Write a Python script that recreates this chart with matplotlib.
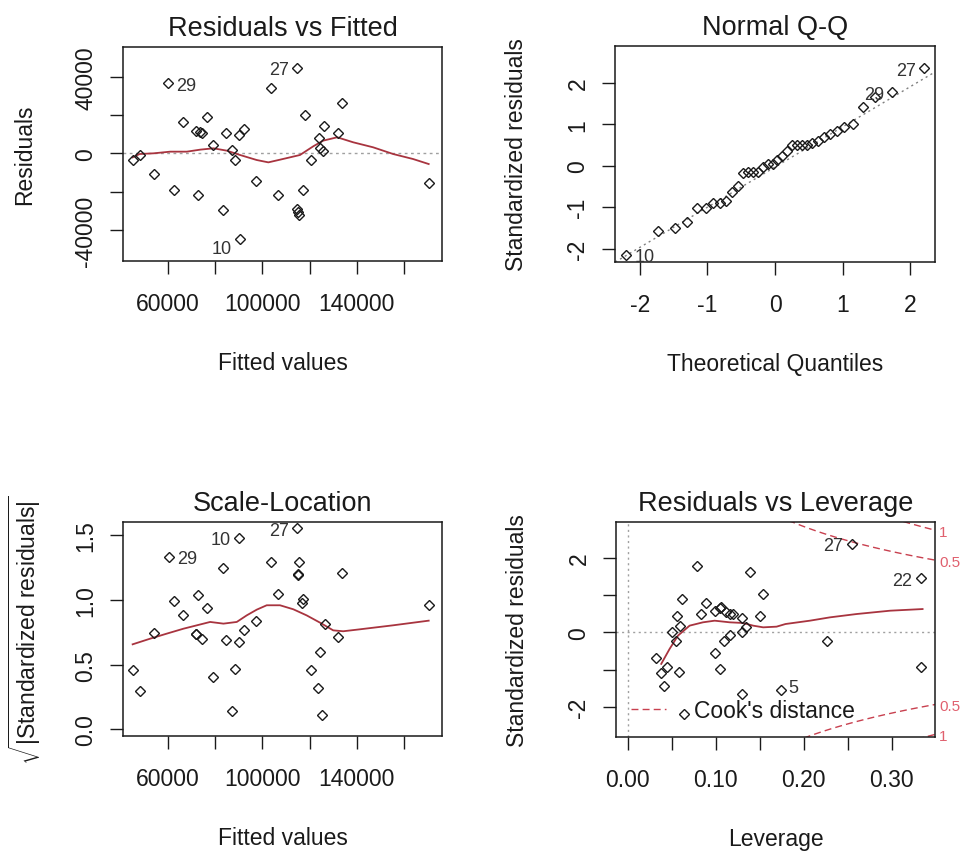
import statistics

import matplotlib
matplotlib.use("Agg")
import matplotlib.pyplot as plt
from matplotlib.lines import Line2D
import numpy as np

plt.rcParams['font.family'] = ['Liberation Sans', 'DejaVu Sans']
plt.rcParams['mathtext.fontset'] = 'custom'
plt.rcParams['mathtext.rm'] = 'Liberation Sans'
plt.rcParams['mathtext.it'] = 'Liberation Sans:italic'

# ------------ Residuals vs Fitted ---------------
fitted = [45070, 48028, 54225, 60000, 62394, 66197, 71831, 74648, 72676, 76479,
          79014, 83521, 84648, 87324, 88451, 90141, 92394, 90423, 97465, 103521,
          106761, 114789, 114507, 115493, 117042, 117887, 120704, 123944, 124366, 125493,
          126197, 131972, 133662, 170423, 73500, 115000]
resid = [-3494, -700, -10830, 36690, -19220, 16250, 11880, 10660, -21840, 19040,
         4190, -29350, 10660, 1750, -3320, 9610, 12750, -44900, -14500, 33890,
         -21840, 44720, -29180, -32150, -19220, 19920, -3320, 8040, 2800, 1220,
         14330, 10830, 26550, -15370, 11200, -30500]
fit_ids = {3: "29", 21: "27", 17: "10"}
fit_smooth_x = [45070, 48028, 53944, 60986, 68028, 73662, 79296, 84930, 90564, 97606,
                102535, 107465, 115915, 121549, 125775, 131690, 138451, 146901, 155352,
                163803, 170423]
fit_smooth_y = [-2096, -349, 0, 874, 874, 1922, 2621, 1398, -874, -3494,
                -4717, -3319, -874, 3669, 6639, 8386, 5765, 3145, -349,
                -2970, -5590]

# ------------ Normal Q-Q ---------------
qq_std = [-2.14, -1.57, -1.49, -1.35, -1.01, -1.01, -0.89, -0.89, -0.85, -0.63,
          -0.48, -0.17, -0.16, -0.16, -0.15, -0.04, 0.04, 0.04, 0.15, 0.24,
          0.36, 0.50, 0.50, 0.50, 0.50, 0.55, 0.60, 0.69, 0.77, 0.85,
          0.93, 1.01, 1.41, 1.65, 1.77, 2.35]
qq_ids = {0: "10", 34: "29", 35: "27"}

# ------------ Scale-Location ---------------
sl_fitted = [45070, 48310, 54225, 60282, 62676, 66197, 71831, 72676, 74648, 76479,
             79014, 83521, 84648, 87324, 88451, 90141, 90141, 92394, 97465, 103521,
             106761, 114789, 115493, 115211, 117324, 116901, 126479, 124366, 120563, 123662,
             125070, 132113, 133521, 170423, 72000, 115100]
sl_root = [0.456, 0.296, 0.747, 1.335, 0.990, 0.881, 0.740, 1.036, 0.701, 0.938,
           0.402, 1.250, 0.688, 0.142, 0.469, 0.675, 1.482, 0.771, 0.838, 1.294,
           1.046, 1.554, 1.294, 1.196, 1.010, 0.979, 0.812, 0.598, 0.456, 0.320,
           0.113, 0.714, 1.209, 0.964, 0.735, 1.20]
sl_ids = {3: "29", 16: "10", 21: "27"}
sl_smooth_x = [45070, 52535, 59577, 66620, 72254, 77887, 83521, 89155, 93380, 97606,
               101831, 107465, 113099, 118732, 124366, 130000, 134225, 141268, 155352, 170423]
sl_smooth_y = [0.657, 0.701, 0.740, 0.778, 0.804, 0.830, 0.817, 0.830, 0.881, 0.925,
               0.959, 0.959, 0.928, 0.881, 0.825, 0.765, 0.758, 0.773, 0.804, 0.840]

# ------------ Residuals vs Leverage ---------------
leverage = [0.0323, 0.038, 0.041, 0.0448, 0.0505, 0.0543, 0.0562, 0.0588, 0.0615, 0.0581,
            0.0638, 0.0786, 0.0828, 0.0892, 0.0987, 0.0995, 0.1044, 0.1055, 0.1112, 0.1093,
            0.1158, 0.1196, 0.1298, 0.1298, 0.134, 0.1298, 0.1386, 0.15, 0.1538, 0.1739,
            0.2267, 0.2544, 0.333, 0.333, 0.105, 0.116]
lev_std = [-0.684, -1.093, -1.44, -0.916, 0.018, -0.222, 0.444, 0.178, 0.889, -1.049,
           -2.196, 1.778, 0.489, 0.773, 0.578, -0.551, -0.978, 0.667, 0.533, -0.24,
           -0.071, 0.489, 0.373, 0.0, 0.133, -1.644, 1.618, 0.444, 1.022, -1.538,
           -0.222, 2.373, 1.44, -0.916, 0.64, 0.50]
lev_ids = {29: "5", 31: "27", 32: "22"}
lev_smooth_x = [0.038, 0.0475, 0.057, 0.0702, 0.0854, 0.0987, 0.1158, 0.131, 0.1424, 0.1538,
                0.169, 0.1792, 0.2069, 0.2297, 0.26, 0.298, 0.3349]
lev_smooth_y = [-0.844, -0.444, -0.089, 0.178, 0.267, 0.311, 0.267, 0.249, 0.178, 0.133,
                0.151, 0.222, 0.311, 0.4, 0.489, 0.578, 0.622]
n_coef = 4
cook_levels = [0.5, 1]

# ------------ Style ---------------
INK = '#1a1a1a'
SMOOTH = '#a8343f'
COOK = '#c8404f'
COOK_TXT = '#e0606e'
GUIDE = '#a0a0a0'
FS = 16.5

fig = plt.figure(figsize=(9.67, 8.53), dpi=100)
W, H = 967.0, 853.0


def panel(left, top, right, bottom):
    return fig.add_axes([left / W, 1 - bottom / H, (right - left) / W, (bottom - top) / H])


def style(ax, title, xlabel, ylabel, xticks, xticklabels, yticks, yticklabels, xlim, ylim):
    ax.set_xlim(xlim)
    ax.set_ylim(ylim)
    ax.set_xticks(xticks)
    ax.set_xticklabels(xticklabels)
    ax.set_yticks(yticks)
    ax.set_yticklabels(yticklabels, rotation=90, va='center')
    ax.tick_params(length=9.4, width=1.0, labelsize=FS, colors=INK)
    ax.tick_params(axis='x', pad=13)
    ax.tick_params(axis='y', pad=9)
    for s in ax.spines.values():
        s.set_linewidth(1.1)
        s.set_color(INK)
    ax.set_title(title, fontsize=19.5, pad=8.5, color=INK)
    ax.set_xlabel(xlabel, fontsize=FS, color=INK, va='center')
    ax.set_ylabel(ylabel, fontsize=FS, color=INK, va='center')
    ax.xaxis.set_label_coords(0.5, -0.472)
    ax.yaxis.set_label_coords(-0.307, 0.5)


def points(ax, x, y):
    ax.plot(x, y, linestyle='none', marker='D', markersize=4.9,
            markerfacecolor='none', markeredgecolor=INK, markeredgewidth=1.0, zorder=3)


def tag_points(ax, x, y, ids, shift=None):
    # labels go left of the point when it sits right of the labelled points' mid-range
    shift = shift or {}
    xs = [x[i] for i in ids]
    mid = (min(xs) + max(xs)) / 2
    for i, lab in ids.items():
        right = x[i] <= mid
        dx, dy = shift.get(lab, (6, -1.5))
        ax.annotate(lab, (x[i], y[i]), xytext=(dx if right else -dx, dy),
                    textcoords='offset points', ha='left' if right else 'right',
                    va='center', fontsize=13, color='#333333', zorder=4)


fit_ticks = [60000, 80000, 100000, 120000, 140000, 160000]
fit_ticklabels = ['60000', '', '100000', '', '140000', '']

# Residuals vs Fitted
ax1 = panel(123, 48, 442, 262)
ax1.axhline(0, color=GUIDE, lw=1.0, ls=(0, (2, 2.5)), zorder=1)
ax1.plot(fit_smooth_x, fit_smooth_y, color=SMOOTH, lw=1.3, zorder=2)
points(ax1, fitted, resid)
tag_points(ax1, fitted, resid, fit_ids, shift={"10": (6, -6.5)})
style(ax1, 'Residuals vs Fitted', 'Fitted values', 'Residuals',
      fit_ticks, fit_ticklabels,
      [-40000, -20000, 0, 20000, 40000], ['-40000', '', '0', '', '40000'],
      (40986, 176060), (-56250, 55550))

# Normal Q-Q
n = len(qq_std)
nd = statistics.NormalDist()
theo = [nd.inv_cdf((i + 0.5) / n) for i in range(n)]
ax2 = panel(615, 47, 935, 263)
q_lo, q_hi = np.quantile(qq_std, [0.25, 0.75])
z_lo, z_hi = nd.inv_cdf(0.25), nd.inv_cdf(0.75)
slope = (q_hi - q_lo) / (z_hi - z_lo)
icpt = q_lo - slope * z_lo
ax2.axline((0, icpt), slope=slope, color='#808080', lw=1.0, ls=(0, (1.5, 2.5)), zorder=1)
points(ax2, theo, qq_std)
tag_points(ax2, theo, qq_std, qq_ids)
style(ax2, 'Normal Q-Q', 'Theoretical Quantiles', 'Standardized residuals',
      [-2, -1, 0, 1, 2], ['-2', '-1', '0', '1', '2'],
      [-2, -1, 0, 1, 2], ['-2', '-1', '0', '1', '2'],
      (-2.365, 2.365), (-2.32, 2.887))

# Scale-Location
ax3 = panel(123, 523, 442, 737)
ax3.plot(sl_smooth_x, sl_smooth_y, color=SMOOTH, lw=1.3, zorder=2)
points(ax3, sl_fitted, sl_root)
tag_points(ax3, sl_fitted, sl_root, sl_ids)
style(ax3, 'Scale-Location', 'Fitted values',
      r'$\sqrt{|\mathrm{Standardized\ residuals}|}$',
      fit_ticks, fit_ticklabels,
      [0.0, 0.5, 1.0, 1.5], ['0.0', '0.5', '1.0', '1.5'],
      (40986, 176060), (-0.052, 1.603))

# Residuals vs Leverage
ax4 = panel(616, 523, 935, 738)
lev_xlim = (-0.0134, 0.349)
lev_ylim = (-2.8, 2.95)
ax4.axhline(0, color=GUIDE, lw=1.0, ls=(0, (1.5, 2.5)), zorder=1)
ax4.axvline(0, color=GUIDE, lw=1.0, ls=(0, (1.5, 2.5)), zorder=1)
hh = np.linspace(min(min(leverage), max(leverage) / 100), lev_xlim[1], 101)
for crit in cook_levels:
    cl = np.sqrt(crit * n_coef * (1 - hh) / hh)
    ax4.plot(hh, cl, color=COOK, lw=1.0, ls=(0, (5, 3)), zorder=1)
    ax4.plot(hh, -cl, color=COOK, lw=1.0, ls=(0, (5, 3)), zorder=1)
ax4.plot(lev_smooth_x, lev_smooth_y, color=SMOOTH, lw=1.3, zorder=2)
points(ax4, leverage, lev_std)
ax4.legend(handles=[Line2D([], [], color=COOK, lw=1.0, ls=(0, (5, 3)))],
           labels=["Cook's distance"], loc='lower left', frameon=False,
           fontsize=FS, handlelength=1.55, handletextpad=1.2, labelcolor=INK,
           borderaxespad=0.25)
tag_points(ax4, leverage, lev_std, lev_ids, shift={"5": (5, 1.5)})
style(ax4, 'Residuals vs Leverage', 'Leverage', 'Standardized residuals',
      [0.0, 0.05, 0.10, 0.15, 0.20, 0.25, 0.30],
      ['0.00', '', '0.10', '', '0.20', '', '0.30'],
      [-2, -1, 0, 1, 2], ['-2', '', '0', '', '2'],
      lev_xlim, lev_ylim)
ax4.yaxis.set_label_coords(-0.31, 0.5)
ax4.xaxis.set_label_coords(0.5, -0.474)

# Cook's distance levels on the right margin
ymult = np.sqrt(n_coef * (1 - lev_xlim[1]) / lev_xlim[1])
aty = np.sqrt(cook_levels) * ymult
ax4r = ax4.twinx()
ax4r.set_ylim(lev_ylim)
ax4r.set_yticks(list(-aty[::-1]) + list(aty))
ax4r.set_yticklabels([str(c) for c in cook_levels[::-1]] + [str(c) for c in cook_levels])
ax4r.tick_params(length=0, pad=3, labelsize=11, labelcolor=COOK_TXT)
for s in ax4r.spines.values():
    s.set_visible(False)

fig.savefig('out.png', dpi=100)
